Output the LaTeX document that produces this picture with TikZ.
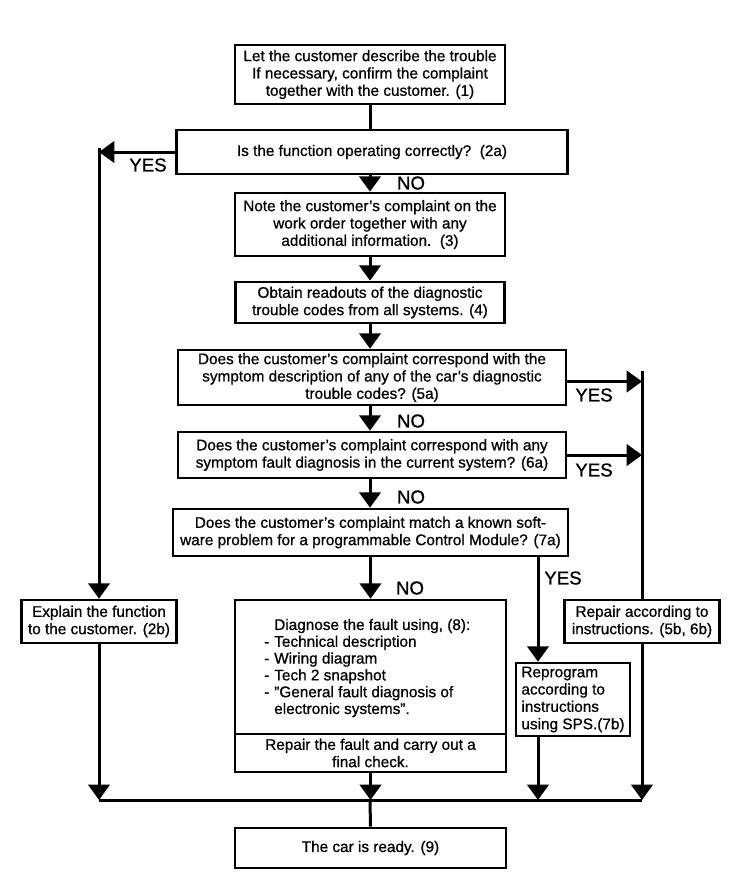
\documentclass[tikz,border=0pt]{standalone}
\usepackage{fontspec}
\setmainfont{Liberation Sans}[BoldFont={Liberation Sans}, BoldFeatures={FakeBold=0.8}]
\usetikzlibrary{arrows.meta}
\begin{document}
\begin{tikzpicture}[x=0.75pt,y=-0.75pt,
  box/.style={draw, line width=2pt, align=center, inner sep=0pt, font=\fontsize{11.5}{13}\selectfont\bfseries},
  txt/.style={inner sep=0pt, font=\fontsize{11.5}{12.6}\selectfont\bfseries},
  lbl/.style={inner sep=0pt, font=\fontsize{14}{16}\selectfont\bfseries},
  conn/.style={line width=2.25pt},
  arr/.style={conn, -{Triangle[width=16pt,length=11.5pt]}},
]
\useasboundingbox[fill=white] (0,0) rectangle (752,896);

% boxes
\node[box, minimum width=202.5pt, minimum height=44.25pt] (b1) at (370,74.5)
  {Let the customer describe the trouble\\If necessary, confirm the complaint\\together with the customer. (1)};
\node[box, minimum width=293.25pt, minimum height=33pt] (b2a) at (372,152)
  {Is the function operating correctly?\ \ (2a)};
\node[box, minimum width=202.5pt, minimum height=47.25pt] (b3) at (370,224.5)
  {Note the customer's complaint on the\\work order together with any\\additional information.\ \ (3)};
\node[box, minimum width=201.75pt, minimum height=30.75pt] (b4) at (370,302.5)
  {Obtain readouts of the diagnostic\\trouble codes from all systems. (4)};
\node[box, minimum width=291pt, minimum height=41.25pt] (b5a) at (372,377.5)
  {Does the customer's complaint correspond with the\\symptom description of any of the car's diagnostic\\trouble codes? (5a)};
\node[box, minimum width=291pt, minimum height=34.5pt] (b6a) at (372,455)
  {Does the customer's complaint correspond with any\\symptom fault diagnosis in the current system? (6a)};
\node[box, minimum width=296.25pt, minimum height=35.25pt] (b7a) at (370.5,532.5)
  {Does the customer's complaint match a known soft-\\ware problem for a programmable Control Module? (7a)};
\node[box, minimum width=116.25pt, minimum height=32.25pt] (b2b) at (99,621.5)
  {Explain the function\\to the customer. (2b)};
\node[box, minimum width=203.25pt, minimum height=100.5pt] (b8) at (370.5,667) {};
\node[txt, anchor=west, align=left] (b8t) at (264,668)
  {\makebox[7.5pt][l]{}Diagnose the fault using, (8):\\
   \makebox[7.5pt][l]{-}Technical description\\
   \makebox[7.5pt][l]{-}Wiring diagram\\
   \makebox[7.5pt][l]{-}Tech 2 snapshot\\
   \makebox[7.5pt][l]{-}"General fault diagnosis of\\
   \makebox[7.5pt][l]{}electronic systems".};
\node[box, minimum width=203.25pt, minimum height=28.5pt] (b8r) at (370.5,753)
  {Repair the fault and carry out a\\final check.};
\node[box, align=left, minimum width=85.5pt, minimum height=54.75pt] (b7b) at (573,699.5)
  {Reprogram\\according to\\instructions\\using SPS.(7b)};
\node[box, minimum width=116.25pt, minimum height=32.25pt] (b56) at (642,621.5)
  {Repair according to\\instructions. (5b, 6b)};
\node[box, minimum width=203.25pt, minimum height=30pt] (b9) at (370.5,848)
  {The car is ready. (9)};

% helper coordinates
\coordinate (l2) at (b2a.west -| b2b.north);
\coordinate (r5) at ([yshift=-3pt]b5a.east -| b56.north);
\coordinate (x7) at (538,0);
\coordinate (bus) at (370,800);

% main trunk
\draw[conn] (b1.south) -- (b1.south |- b2a.north);
\draw[arr] (b3.north |- b2a.south) -- (b3.north);
\draw[arr] (b3.south) -- (b3.south |- b4.north);
\draw[arr] (b4.south) -- (b4.south |- b5a.north);
\draw[arr] (b4.south |- b5a.south) -- (b4.south |- b6a.north);
\draw[arr] (b4.south |- b6a.south) -- (b4.south |- b7a.north);
\draw[arr] (b8.north |- b7a.south) -- (b8.north);

% YES left
\draw[arr] (b2a.west) -- (l2);
\draw[arr] ([yshift=3pt]l2) -- (b2b.north);

% YES right
\draw[arr] ([yshift=-3pt]b5a.east) -- (r5);
\draw[arr] (b6a.east) -- (b6a.east -| b56.north);
\draw[conn] ([yshift=8pt]r5) -- (b56.north);

% YES 7a
\draw[arr] (b7a.south -| x7) -- (b7b.north -| x7);

% bottom bus
\draw[arr] (b2b.south) -- (b2b.south |- bus);
\draw[arr] (b8r.south) -- (b8r.south |- bus);
\draw[arr] (b7b.south -| x7) -- (x7 |- bus);
\draw[arr] (b56.south) -- (b56.south |- bus);
\draw[conn] (b2b.south |- bus) -- (b56.south |- bus);
\draw[conn] (bus) -- (b9.north);

% labels
\node[lbl] (yes2) at (148,165) {YES};
\node[lbl] (no2) at (411,183) {NO};
\node[lbl] (yes5) at (594,395) {YES};
\node[lbl] (no5) at (411,421) {NO};
\node[lbl] (yes6) at (594,470) {YES};
\node[lbl] (no6) at (411,497) {NO};
\node[lbl] (yes7) at (563,578) {YES};
\node[lbl] (no7) at (410,588) {NO};
\end{tikzpicture}
\end{document}
